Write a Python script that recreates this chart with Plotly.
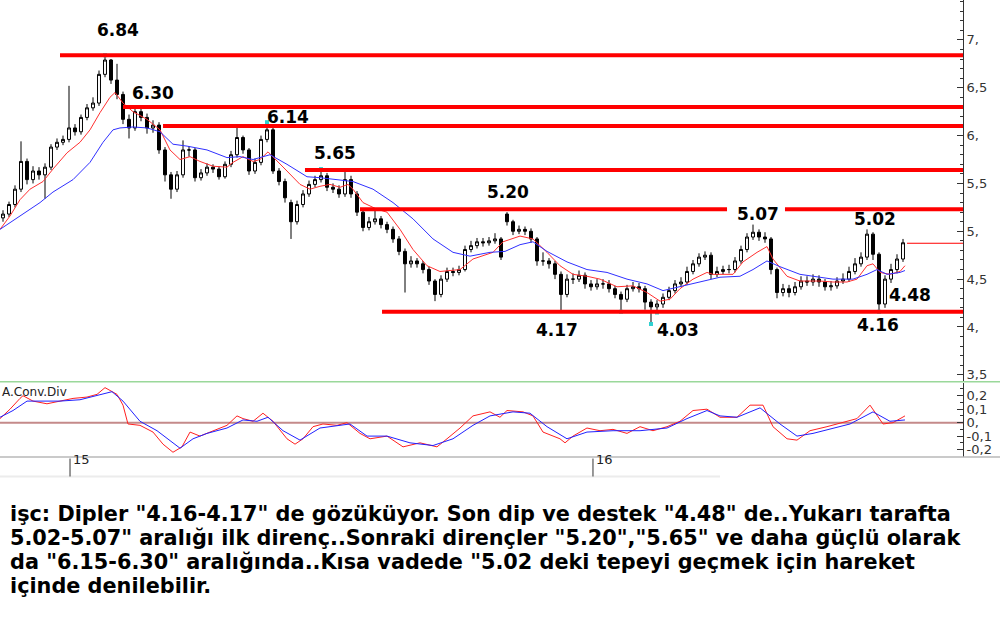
import plotly.graph_objects as go

# ---------------- DATA ----------------
bars = list(range(151))  # bar index (oldest -> newest)

opens = [
    5.14, 5.18, 5.28, 5.44, 5.73, 5.54, 5.63, 5.59, 5.67, 5.88,
    5.93, 5.96, 6.08, 6.04, 6.19, 6.29, 6.34, 6.64, 6.79, 6.58,
    6.43, 6.17, 6.08, 6.25, 6.19, 6.08, 6.11, 5.85, 5.59, 5.44,
    5.59, 5.85, 5.85, 5.56, 5.61, 5.67, 5.65, 5.57, 5.70, 5.80,
    5.98, 5.85, 5.63, 5.72, 5.96, 6.06, 5.63, 5.52, 5.30, 5.10,
    5.28, 5.39, 5.49, 5.54, 5.58, 5.46, 5.44, 5.39, 5.54, 5.39,
    5.20, 5.04, 5.10, 5.13, 5.07, 5.02, 4.92, 4.79, 4.66, 4.69,
    4.66, 4.60, 4.48, 4.34, 4.50, 4.58, 4.57, 4.60, 4.81, 4.85,
    4.89, 4.88, 4.90, 4.92, 5.18, 5.10, 5.00, 5.02, 5.00, 4.92,
    4.69, 4.69, 4.66, 4.55, 4.34, 4.50, 4.50, 4.54, 4.45, 4.42,
    4.45, 4.45, 4.40, 4.34, 4.29, 4.40, 4.42, 4.40, 4.26, 4.21,
    4.24, 4.31, 4.38, 4.45, 4.47, 4.58, 4.66, 4.73, 4.75, 4.55,
    4.58, 4.60, 4.60, 4.69, 4.81, 4.94, 4.99, 4.94, 4.92, 4.60,
    4.36, 4.40, 4.36, 4.42, 4.48, 4.47, 4.50, 4.47, 4.42, 4.43,
    4.48, 4.50, 4.58, 4.66, 4.73, 4.97, 4.76, 4.24, 4.50, 4.60,
    4.71]

highs = [
    5.22, 5.31, 5.48, 5.94, 5.76, 5.68, 5.67, 5.71, 5.91, 5.97,
    6.00, 6.52, 6.12, 6.22, 6.33, 6.40, 6.68, 6.84, 6.80, 6.75,
    6.46, 6.22, 6.30, 6.29, 6.23, 6.16, 6.14, 5.88, 5.62, 5.63,
    5.95, 5.89, 5.87, 5.65, 5.71, 5.70, 5.68, 5.73, 5.84, 6.08,
    6.00, 5.87, 5.76, 6.00, 6.14, 6.08, 5.66, 5.55, 5.33, 5.32,
    5.43, 5.53, 5.58, 5.65, 5.61, 5.50, 5.48, 5.64, 5.58, 5.42,
    5.22, 5.15, 5.22, 5.16, 5.10, 5.05, 4.95, 4.82, 4.74, 4.72,
    4.69, 4.63, 4.50, 4.54, 4.62, 4.62, 4.64, 4.85, 4.90, 4.93,
    4.93, 4.94, 4.98, 4.94, 5.20, 5.12, 5.06, 5.05, 5.03, 4.94,
    4.78, 4.72, 4.69, 4.58, 4.55, 4.56, 4.59, 4.57, 4.49, 4.50,
    4.50, 4.49, 4.43, 4.37, 4.44, 4.47, 4.46, 4.43, 4.29, 4.28,
    4.35, 4.42, 4.49, 4.52, 4.63, 4.70, 4.77, 4.79, 4.78, 4.63,
    4.64, 4.65, 4.73, 4.85, 4.98, 5.07, 5.02, 4.99, 4.94, 4.62,
    4.45, 4.44, 4.47, 4.53, 4.53, 4.55, 4.54, 4.50, 4.48, 4.52,
    4.56, 4.63, 4.72, 4.78, 5.02, 4.99, 4.78, 4.54, 4.66, 4.76,
    4.92]

lows = [
    5.10, 5.15, 5.25, 5.41, 5.49, 5.50, 5.54, 5.34, 5.64, 5.85,
    5.90, 5.93, 6.00, 6.01, 6.16, 6.26, 6.31, 6.61, 6.54, 6.38,
    6.12, 5.97, 6.05, 6.15, 6.02, 6.03, 5.81, 5.52, 5.34, 5.41,
    5.56, 5.78, 5.52, 5.53, 5.58, 5.61, 5.54, 5.55, 5.67, 5.77,
    5.81, 5.59, 5.60, 5.69, 5.93, 5.60, 5.48, 5.30, 4.92, 5.07,
    5.25, 5.36, 5.46, 5.51, 5.42, 5.40, 5.35, 5.36, 5.35, 5.16,
    5.00, 5.01, 5.07, 5.03, 4.98, 4.88, 4.75, 4.36, 4.62, 4.62,
    4.56, 4.44, 4.27, 4.31, 4.47, 4.53, 4.54, 4.58, 4.78, 4.82,
    4.84, 4.85, 4.87, 4.70, 5.06, 4.96, 4.97, 4.96, 4.88, 4.64,
    4.64, 4.61, 4.50, 4.17, 4.31, 4.45, 4.47, 4.40, 4.38, 4.39,
    4.40, 4.36, 4.30, 4.16, 4.26, 4.37, 4.36, 4.18, 4.03, 4.15,
    4.20, 4.28, 4.35, 4.42, 4.44, 4.55, 4.63, 4.70, 4.50, 4.52,
    4.55, 4.56, 4.57, 4.66, 4.78, 4.91, 4.90, 4.88, 4.55, 4.30,
    4.32, 4.31, 4.33, 4.39, 4.43, 4.43, 4.42, 4.38, 4.38, 4.40,
    4.45, 4.47, 4.55, 4.63, 4.70, 4.70, 4.16, 4.20, 4.46, 4.56,
    4.68]

closes = [
    5.18, 5.28, 5.44, 5.73, 5.54, 5.63, 5.59, 5.67, 5.88, 5.93,
    5.96, 6.08, 6.04, 6.19, 6.29, 6.34, 6.64, 6.79, 6.58, 6.43,
    6.17, 6.08, 6.25, 6.19, 6.08, 6.11, 5.85, 5.59, 5.44, 5.59,
    5.85, 5.85, 5.56, 5.61, 5.67, 5.65, 5.57, 5.70, 5.80, 5.98,
    5.85, 5.63, 5.72, 5.96, 6.06, 5.63, 5.52, 5.35, 5.10, 5.28,
    5.39, 5.49, 5.54, 5.58, 5.46, 5.44, 5.39, 5.54, 5.39, 5.20,
    5.04, 5.10, 5.13, 5.07, 5.02, 4.92, 4.79, 4.66, 4.69, 4.66,
    4.60, 4.48, 4.34, 4.50, 4.58, 4.57, 4.60, 4.81, 4.85, 4.89,
    4.88, 4.90, 4.92, 4.73, 5.10, 5.00, 5.02, 5.00, 4.92, 4.69,
    4.69, 4.66, 4.55, 4.34, 4.50, 4.50, 4.54, 4.45, 4.42, 4.45,
    4.45, 4.40, 4.34, 4.29, 4.40, 4.42, 4.40, 4.26, 4.21, 4.24,
    4.31, 4.38, 4.45, 4.47, 4.58, 4.66, 4.73, 4.75, 4.55, 4.58,
    4.60, 4.60, 4.69, 4.81, 4.94, 4.99, 4.94, 4.92, 4.60, 4.36,
    4.40, 4.36, 4.42, 4.48, 4.47, 4.50, 4.47, 4.42, 4.43, 4.48,
    4.50, 4.58, 4.66, 4.73, 4.97, 4.76, 4.24, 4.50, 4.60, 4.71,
    4.88]

# short moving average (red)
ma_red_x = [-0.5, 1.17, 2.83, 4.5, 6.67, 8.33, 10.67, 12.83, 14.5, 16.17,
            17.83, 18.67, 20, 21.67, 24, 26.17, 27.83, 29.5, 31.17, 32.83,
            35, 37.33, 38.33, 40, 41.67, 42.83, 44.17, 45.67, 47.33, 49.5,
            51.17, 52.83, 54.5, 56.17, 57.5, 58.33, 60, 62.33, 64, 66.17,
            68.33, 70.67, 72.83, 76.17, 78.33, 81.67, 83.33, 86.17, 88.33, 90.67,
            92.83, 95, 97.33, 99.5, 102.33, 105, 107.33, 109.5, 111.17, 112.83,
            115, 117.33, 118.33, 121.67, 123.33, 125.67, 127.33, 128.33, 130.67, 132.83,
            136.17, 138.33, 140.67, 142.33, 144, 145, 146.17, 147.83, 149.5, 150.33]
ma_red = [5.02, 5.16, 5.33, 5.44, 5.52, 5.65, 5.82, 5.93, 6.06, 6.24,
          6.40, 6.45, 6.34, 6.25, 6.17, 6.06, 5.85, 5.75, 5.78, 5.73,
          5.68, 5.67, 5.72, 5.78, 5.73, 5.75, 5.83, 5.73, 5.63, 5.49,
          5.44, 5.47, 5.49, 5.46, 5.49, 5.44, 5.30, 5.23, 5.20, 5.02,
          4.81, 4.64, 4.58, 4.60, 4.71, 4.78, 4.89, 4.95, 4.92, 4.78,
          4.64, 4.55, 4.53, 4.50, 4.42, 4.43, 4.36, 4.27, 4.29, 4.40,
          4.50, 4.57, 4.55, 4.55, 4.68, 4.78, 4.84, 4.71, 4.53, 4.48,
          4.48, 4.47, 4.47, 4.50, 4.64, 4.66, 4.57, 4.55, 4.58, 4.64]

# long moving average (blue)
ma_blue_x = [-0.5, 2.83, 6.17, 8.33, 11.67, 14.5, 16.67, 18.33, 19.5, 21.67,
             24, 26.17, 28.33, 30.67, 34, 37.33, 39.5, 41.67, 44.5, 47.33,
             50.67, 52.83, 55.67, 58.33, 61.67, 65, 68.33, 71.67, 75, 77.83,
             81.17, 83.67, 86.17, 88.33, 90.67, 94, 97.33, 100.67, 104, 107.33,
             110, 112.83, 116.17, 119.5, 122.83, 125, 127.33, 129.5, 132.83, 138.33,
             141.67, 144, 145.67, 147.33, 149.5, 150.33]
ma_blue = [5.02, 5.16, 5.30, 5.41, 5.54, 5.72, 5.93, 6.06, 6.08, 6.09,
           6.08, 6.04, 5.91, 5.89, 5.85, 5.77, 5.78, 5.75, 5.80, 5.70,
           5.57, 5.56, 5.54, 5.52, 5.44, 5.30, 5.13, 4.92, 4.78, 4.74,
           4.78, 4.79, 4.86, 4.89, 4.79, 4.68, 4.60, 4.57, 4.50, 4.45,
           4.38, 4.42, 4.47, 4.52, 4.53, 4.60, 4.69, 4.63, 4.55, 4.50,
           4.50, 4.55, 4.60, 4.55, 4.57, 4.59]

# MACD (red) and signal (blue)
macd_x = [-0.5, 1.17, 2.83, 3.33, 5, 7.33, 9.5, 11.67, 14, 15.67,
          17, 17.83, 19, 20, 20.83, 22.83, 25, 26.67, 28.33, 29.83,
          31.17, 32.83, 35, 37.33, 39, 40, 41.67, 43.33, 45, 47.33,
          48.67, 50, 51.67, 53.33, 55.67, 57.33, 59.5, 61.17, 64, 66.67,
          69.5, 72.33, 74, 76.17, 78.33, 81.17, 82.83, 84, 86.67, 88.33,
          90, 92.83, 93.67, 95, 97.33, 99.5, 101.67, 104, 106.17, 108.33,
          110.67, 112.83, 115, 117.33, 119.5, 122.33, 124.5, 126.67, 128.33, 130.67,
          132.33, 134.5, 137.33, 140, 142.33, 144.5, 146.67, 148.33, 150.33]
macd = [0.03, 0.10, 0.18, 0.20, 0.16, 0.14, 0.16, 0.18, 0.19, 0.21,
        0.26, 0.24, 0.21, 0.13, -0.01, -0.02, -0.07, -0.16, -0.22, -0.18,
        -0.07, -0.10, -0.06, -0.02, 0.05, 0.03, 0.01, 0.07, 0.01, -0.12,
        -0.16, -0.12, -0.03, -0.01, -0.02, 0.00, -0.08, -0.12, -0.10, -0.18,
        -0.15, -0.18, -0.12, -0.04, 0.05, 0.08, 0.04, 0.09, 0.08, 0.05,
        -0.07, -0.12, -0.15, -0.10, -0.04, -0.06, -0.05, -0.08, -0.03, -0.06,
        -0.03, 0.01, 0.09, 0.10, 0.04, 0.04, 0.13, 0.13, -0.03, -0.12,
        -0.13, -0.06, -0.03, 0.00, 0.03, 0.13, -0.01, 0.00, 0.05]

signal_x = [-0.5, 1.67, 4, 6.67, 9.5, 12.83, 16.17, 18.17, 20, 22.83,
            25.67, 27.83, 29.5, 31.67, 34, 37.33, 40, 42.33, 44.17, 46.67,
            49.5, 52.83, 55.67, 57.83, 60.67, 64, 67.83, 71.67, 75, 78.33,
            81.17, 85, 87.83, 90.67, 94, 97.33, 101.67, 106.17, 110.67, 114,
            117.33, 119.5, 122.33, 126.17, 129.5, 132.33, 135, 138.33, 141.17, 145,
            147.83, 150.33]
signal = [0.04, 0.09, 0.16, 0.16, 0.16, 0.17, 0.21, 0.23, 0.16, 0.01,
          -0.06, -0.13, -0.19, -0.12, -0.08, -0.04, 0.02, 0.01, 0.04, -0.06,
          -0.13, -0.04, -0.02, -0.01, -0.10, -0.10, -0.15, -0.17, -0.12, -0.02,
          0.05, 0.08, 0.07, -0.03, -0.12, -0.07, -0.06, -0.06, -0.04, 0.03,
          0.09, 0.05, 0.04, 0.11, -0.01, -0.10, -0.08, -0.04, -0.01, 0.08,
          0.01, 0.02]

# small cyan markers at the swing extremes
extreme_x = [17, 44, 53, 57, 103, 108, 109, 146]
extreme_y = [6.84, 6.14, 5.65, 5.64, 4.16, 4.03, 4.15, 4.16]

# horizontal support / resistance levels
level_values = [6.84, 6.30, 6.10, 5.64, 5.23, 5.23, 4.16]
last_price = 4.875

# annotated price labels
label_texts = ["6.84", "6.30", "6.14", "5.65", "5.20", "5.07", "5.02", "4.48", "4.17", "4.03", "4.16"]

# axis tick labels
price_ticks = [3.5, 4.0, 4.5, 5.0, 5.5, 6.0, 6.5, 7.0]
price_tick_text = ["3,5", "4,", "4,5", "5,", "5,5", "6,", "6,5", "7,"]
macd_ticks = [-0.2, -0.1, 0.0, 0.1, 0.2]
macd_tick_text = ["-0,2", "-0,1", "0,", "0,1", "0,2"]
year_labels = ["15", "16"]

comment_lines = [
    'işc: Dipler "4.16-4.17" de gözüküyor. Son dip ve destek "4.48" de..Yukarı tarafta',
    '5.02-5.07" aralığı ilk direnç..Sonraki dirençler "5.20","5.65" ve daha güçlü olarak',
    'da "6.15-6.30" aralığında..Kısa vadede "5.02 deki tepeyi geçmek için hareket',
    'içinde denilebilir.',
]

# ---------------- LAYOUT CONSTANTS ----------------
W, H = 1000, 637
X_END = 160
def py(px):
    return 1 - px / H

fig = go.Figure()

fig.add_trace(go.Candlestick(
    x=bars, open=opens, high=highs, low=lows, close=closes,
    xaxis="x", yaxis="y",
    increasing=dict(line=dict(color="#000000", width=1), fillcolor="#ffffff"),
    decreasing=dict(line=dict(color="#000000", width=1), fillcolor="#000000"),
    whiskerwidth=0, showlegend=False, hoverinfo="skip",
))

fig.add_trace(go.Scatter(x=ma_red_x, y=ma_red, mode="lines", line=dict(color="#ff3030", width=1),
                         xaxis="x", yaxis="y", showlegend=False, hoverinfo="skip"))
fig.add_trace(go.Scatter(x=ma_blue_x, y=ma_blue, mode="lines", line=dict(color="#3030ff", width=1),
                         xaxis="x", yaxis="y", showlegend=False, hoverinfo="skip"))
fig.add_trace(go.Scatter(x=extreme_x, y=extreme_y, mode="markers",
                         marker=dict(color="#30d0d0", size=4, symbol="square"),
                         xaxis="x", yaxis="y", showlegend=False, hoverinfo="skip"))

fig.add_trace(go.Scatter(x=macd_x, y=macd, mode="lines", line=dict(color="#ff2020", width=1),
                         xaxis="x2", yaxis="y2", showlegend=False, hoverinfo="skip"))
fig.add_trace(go.Scatter(x=signal_x, y=signal, mode="lines", line=dict(color="#2020ff", width=1),
                         xaxis="x2", yaxis="y2", showlegend=False, hoverinfo="skip"))

shapes = []
level_starts = [9.5, 20, 26.67, 50.33, 59.5, 130.33, 63.17]
level_ends = [X_END, X_END, X_END, X_END, 120.67, X_END, X_END]
for v, s, e in zip(level_values, level_starts, level_ends):
    shapes.append(dict(type="line", xref="x", yref="y", x0=s, x1=e, y0=v, y1=v,
                       line=dict(color="#ff0000", width=4), layer="above"))
shapes.append(dict(type="line", xref="x", yref="y", x0=150.67, x1=X_END, y0=last_price, y1=last_price,
                   line=dict(color="#ff0000", width=1)))
# macd zero line
shapes.append(dict(type="line", xref="x2", yref="y2", x0=-0.5, x1=X_END, y0=0, y1=0,
                   line=dict(color="#c48a8a", width=2), layer="below"))
# panel separators
shapes.append(dict(type="line", xref="paper", yref="paper", x0=0, x1=1, y0=py(383), y1=py(383),
                   line=dict(color="#9ad89a", width=1.5)))
shapes.append(dict(type="line", xref="paper", yref="paper", x0=0, x1=1, y0=py(458.5), y1=py(458.5),
                   line=dict(color="#b8b8b8", width=1.5)))
shapes.append(dict(type="line", xref="paper", yref="paper", x0=0, x1=0.72, y0=py(478), y1=py(478),
                   line=dict(color="#ececec", width=2)))
# year tick marks
year_pos = [11.17, 98.33]
for xp in year_pos:
    shapes.append(dict(type="line", xref="x2", yref="paper", x0=xp, x1=xp, y0=py(460), y1=py(478),
                       line=dict(color="#333333", width=1)))

annotations = []
label_pos = [(19.17, 7.10), (25, 6.45), (47.5, 6.19), (55.33, 5.82), (84.17, 5.41),
             (125.83, 5.18), (145.33, 5.125), (151.17, 4.33), (92.33, 3.97),
             (112.5, 3.97), (145.83, 4.02)]
for t, (xp, yp) in zip(label_texts, label_pos):
    annotations.append(dict(x=xp, y=yp, xref="x", yref="y", text="<b>" + t + "</b>",
                            showarrow=False, font=dict(family="DejaVu Sans", size=17, color="#000000")))
for t, xp in zip(year_labels, year_pos):
    annotations.append(dict(x=xp, y=py(470), xref="x2", yref="paper", text=t, xanchor="left",
                            xshift=1, showarrow=False,
                            font=dict(family="DejaVu Sans", size=13, color="#222222")))
annotations.append(dict(x=0, y=py(393), xref="paper", yref="paper", text="A.Conv.Div",
                        xanchor="left", showarrow=False,
                        font=dict(family="DejaVu Sans", size=12, color="#222222")))
line_y = [516, 540, 564, 588]
for t, yy in zip(comment_lines, line_y):
    annotations.append(dict(x=8 / W, y=py(yy), xref="paper", yref="paper", text="<b>" + t + "</b>",
                            xanchor="left", yanchor="middle", showarrow=False,
                            font=dict(family="DejaVu Sans", size=20.8, color="#000000")))

axis_font = dict(family="DejaVu Sans", size=13, color="#333333")
fig.update_layout(
    width=W, height=H,
    margin=dict(l=0, r=0, t=0, b=0),
    paper_bgcolor="white", plot_bgcolor="white",
    showlegend=False,
    xaxis=dict(domain=[0, 963 / W], range=[-0.5, X_END], anchor="y", showticklabels=False,
               showgrid=False, zeroline=False, showline=False, ticks="", rangeslider=dict(visible=False)),
    xaxis2=dict(domain=[0, 963 / W], range=[-0.5, X_END], anchor="y2", matches="x", showticklabels=False,
                showgrid=False, zeroline=False, showline=False, ticks=""),
    yaxis=dict(domain=[py(382), 1], range=[3.4375, 7.417], side="right", anchor="x",
               tickvals=price_ticks, ticktext=price_tick_text, ticks="inside", ticklen=6,
               tickcolor="#333333", showline=True, linecolor="#333333", linewidth=1,
               showgrid=False, zeroline=False, tickfont=axis_font,
               minor=dict(ticks="inside", ticklen=3, dtick=0.1, tickcolor="#333333")),
    yaxis2=dict(domain=[py(458), py(384)], range=[-0.252, 0.296], side="right", anchor="x2",
                tickvals=macd_ticks, ticktext=macd_tick_text, ticks="inside", ticklen=6,
                tickcolor="#333333", showline=True, linecolor="#333333", linewidth=1,
                showgrid=False, zeroline=False, tickfont=axis_font,
                minor=dict(ticks="inside", ticklen=3, dtick=0.05, tickcolor="#333333")),
    shapes=shapes,
    annotations=annotations,
)

fig.write_html("out.html", config={"displayModeBar": False},
               post_script="document.body.style.margin='0';")
